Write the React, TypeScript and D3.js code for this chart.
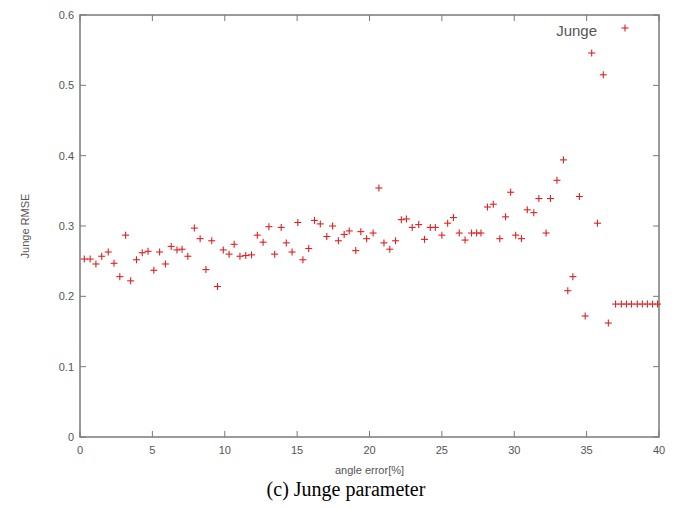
import React from "react";
import * as d3 from "d3";

const angleError: number[] = [
  0.3, 0.7, 1.1, 1.5, 1.95, 2.35, 2.75, 3.15, 3.5, 3.9,
  4.3, 4.7, 5.1, 5.5, 5.9, 6.3, 6.7, 7.05, 7.45, 7.9,
  8.3, 8.7, 9.1, 9.5, 9.9, 10.3, 10.65, 11.05, 11.45, 11.85,
  12.25, 12.65, 13.05, 13.45, 13.9, 14.25, 14.65, 15.05, 15.4, 15.8,
  16.2, 16.6, 17.05, 17.45, 17.85, 18.25, 18.6, 19.05, 19.4, 19.8,
  20.25, 20.65, 21.0, 21.4, 21.8, 22.2, 22.55, 22.95, 23.4, 23.8,
  24.2, 24.55, 25.0, 25.4, 25.8, 26.2, 26.6, 27.05, 27.4, 27.7,
  28.15, 28.55, 29.0, 29.4, 29.75, 30.1, 30.5, 30.9, 31.35, 31.7,
  32.2, 32.5, 32.95, 33.4, 33.7, 34.05, 34.5, 34.9, 35.35, 35.75,
  36.15, 36.5, 37.0, 37.4, 37.75, 38.1, 38.5, 38.85, 39.2, 39.55, 39.9,
];

const jungeRmse: number[] = [
  0.253, 0.253, 0.246, 0.257, 0.263, 0.247, 0.228, 0.287, 0.222, 0.252,
  0.262, 0.264, 0.237, 0.263, 0.246, 0.271, 0.266, 0.267, 0.257, 0.297,
  0.282, 0.238, 0.279, 0.214, 0.266, 0.26, 0.274, 0.257, 0.258, 0.259,
  0.287, 0.277, 0.299, 0.26, 0.298, 0.276, 0.263, 0.305, 0.252, 0.268,
  0.308, 0.303, 0.285, 0.3, 0.279, 0.288, 0.293, 0.265, 0.292, 0.282,
  0.29, 0.354, 0.276, 0.267, 0.279, 0.309, 0.31, 0.298, 0.302, 0.281,
  0.298, 0.298, 0.287, 0.304, 0.312, 0.29, 0.28, 0.29, 0.29, 0.29,
  0.327, 0.331, 0.282, 0.313, 0.348, 0.287, 0.282, 0.323, 0.319, 0.339,
  0.29, 0.339, 0.365, 0.394, 0.208, 0.228, 0.342, 0.172, 0.546, 0.304,
  0.515, 0.162, 0.189, 0.189, 0.189, 0.189, 0.189, 0.189, 0.189, 0.189, 0.189,
];

const xTicks: number[] = [0, 5, 10, 15, 20, 25, 30, 35, 40];
const yTicks: number[] = [0, 0.1, 0.2, 0.3, 0.4, 0.5, 0.6];
const seriesName = "Junge";
const xLabel = "angle error[%]";
const yLabel = "Junge RMSE";
const caption = "(c) Junge parameter";

export default function App() {
  const W = 680;
  const H = 508;
  const left = 80;
  const right = 659;
  const top = 15;
  const bottom = 437;
  const x = d3.scaleLinear().domain([0, 40]).range([left, right]);
  const y = d3.scaleLinear().domain([0, 0.6]).range([bottom, top]);
  const axisColor = "#7a7a7a";
  const textColor = "#555";
  const pointColor = "#e02020";
  const tl = 6;
  const m = 3.5;
  const plus = (cx: number, cy: number, key: string) => (
    <g key={key} stroke={pointColor} strokeWidth={1.1}>
      <line x1={cx - m} x2={cx + m} y1={cy} y2={cy} />
      <line x1={cx} x2={cx} y1={cy - m} y2={cy + m} />
    </g>
  );
  const font = "Liberation Sans, Arial, sans-serif";
  return (
    <svg
      width={W}
      height={H}
      style={{ position: "absolute", left: 0, top: 0, background: "#fff" }}
    >
      <rect x={0} y={0} width={W} height={H} fill="#fff" />
      {xTicks.map((t) => (
        <g key={"xt" + t} stroke={axisColor} strokeWidth={1}>
          <line x1={x(t)} x2={x(t)} y1={bottom} y2={bottom - tl} />
          <line x1={x(t)} x2={x(t)} y1={top} y2={top + tl} />
        </g>
      ))}
      {yTicks.map((t) => (
        <g key={"yt" + t} stroke={axisColor} strokeWidth={1}>
          <line x1={left} x2={left + tl} y1={y(t)} y2={y(t)} />
          <line x1={right} x2={right - tl} y1={y(t)} y2={y(t)} />
        </g>
      ))}
      <rect
        x={left}
        y={top}
        width={right - left}
        height={bottom - top}
        fill="none"
        stroke={axisColor}
        strokeWidth={1.5}
      />
      {xTicks.map((t) => (
        <text
          key={"xl" + t}
          x={x(t)}
          y={bottom + 17}
          fontSize={11}
          fontFamily={font}
          fill={textColor}
          textAnchor="middle"
        >
          {t}
        </text>
      ))}
      {yTicks.map((t) => (
        <text
          key={"yl" + t}
          x={left - 6}
          y={y(t) + 4}
          fontSize={11}
          fontFamily={font}
          fill={textColor}
          textAnchor="end"
        >
          {t === 0 ? "0" : d3.format(".1f")(t)}
        </text>
      ))}
      <text
        x={(left + right) / 2}
        y={474}
        fontSize={11}
        fontFamily={font}
        fill={textColor}
        textAnchor="middle"
      >
        {xLabel}
      </text>
      <text
        transform={`translate(29, ${(top + bottom) / 2}) rotate(-90)`}
        fontSize={11}
        fontFamily={font}
        fill={textColor}
        textAnchor="middle"
      >
        {yLabel}
      </text>
      <text
        x={597}
        y={36}
        fontSize={15}
        fontFamily={font}
        fill={textColor}
        textAnchor="end"
      >
        {seriesName}
      </text>
      {plus(625, 28, "legend")}
      {angleError.map((a, i) => plus(x(a), y(jungeRmse[i]), "p" + i))}
      <text
        x={346}
        y={496}
        fontSize={20}
        fontFamily="Liberation Serif, Times New Roman, serif"
        fill="#000"
        textAnchor="middle"
      >
        {caption}
      </text>
    </svg>
  );
}
